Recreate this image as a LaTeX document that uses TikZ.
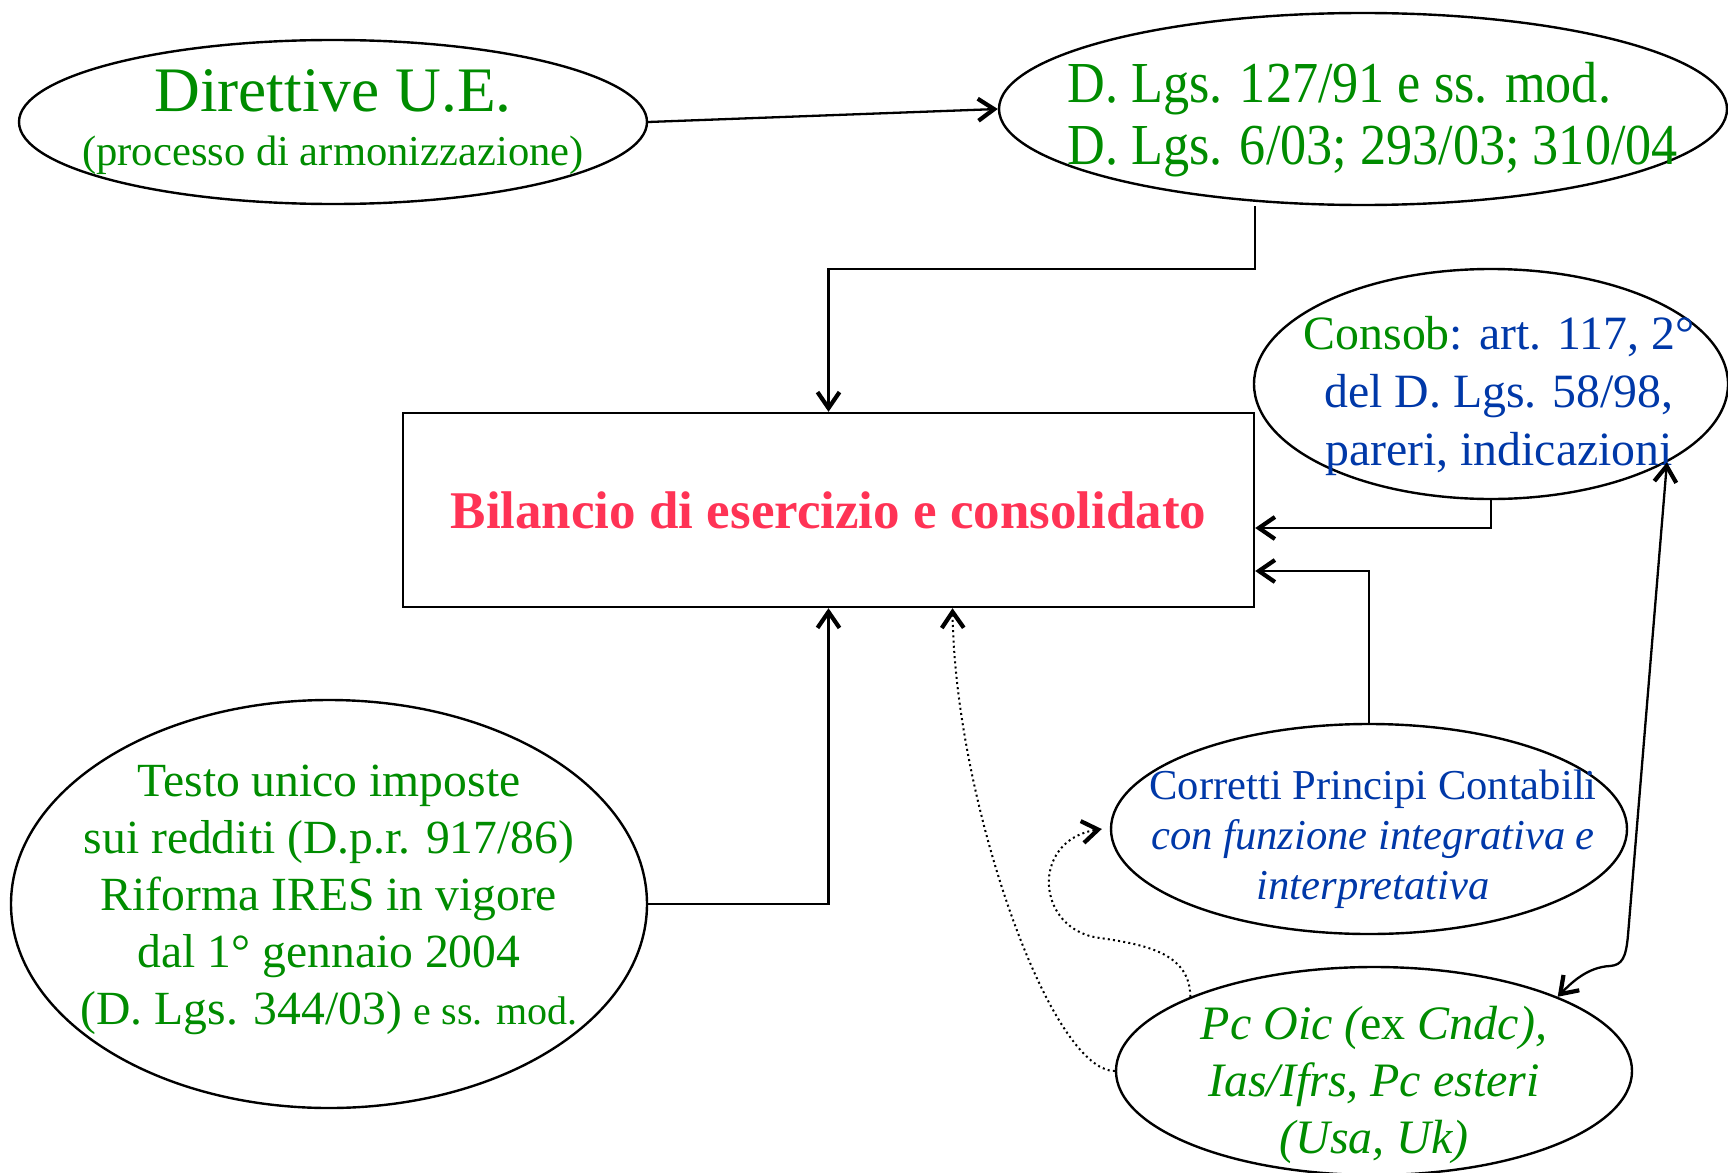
\documentclass[tikz,border=0pt]{standalone}
\usepackage{fontspec}
\setmainfont{Liberation Serif}
\newfontfamily\condfont[FakeStretch=0.9]{Liberation Serif}
\usetikzlibrary{shapes.geometric,arrows.meta}
\definecolor{tgreen}{RGB}{0,140,0}
\definecolor{tblue}{RGB}{0,56,168}
\definecolor{tred}{RGB}{255,51,85}
\begin{document}
\begin{tikzpicture}[x=0.5pt,y=-0.5pt,
  oval/.style={ellipse,draw,line width=1.2pt,inner sep=0pt},
  txt/.style={inner sep=0pt,align=center},
  barb/.tip={Straight Barb[length=8pt,width=11pt,line width=2.1pt]},
  conn/.style={line width=1.15pt,-barb},
  conn2/.style={line width=1.15pt,barb-barb},
  dotconn/.style={line width=1pt,dash pattern=on 1pt off 1.6pt,-{Straight Barb[length=8pt,width=11pt,line width=2.1pt,sep=0pt]}}]
\useasboundingbox (0,0) rectangle (1728,1172);
% ellipses
\node[oval,minimum width=314pt,minimum height=82pt] (dir) at (333,122) {};
\node[oval,minimum width=364pt,minimum height=96pt] (dlgs) at (1363,109) {};
\node[oval,minimum width=237pt,minimum height=115pt] (consob) at (1491,384) {};
\node[oval,minimum width=258pt,minimum height=105pt] (corretti) at (1369,829) {};
\node[oval,minimum width=258pt,minimum height=104pt] (pcoic) at (1374,1071) {};
\node[oval,minimum width=318pt,minimum height=204pt] (testo) at (329,904) {};
% central box
\node[draw,line width=1.2pt,minimum width=425.5pt,minimum height=97pt,inner sep=0pt,
  text=tred,font=\fontsize{26.5}{30}\selectfont\bfseries] (box) at (828.5,510)
  {Bilancio di esercizio e consolidato};
% texts
\node[txt,text=tgreen] (dirtxt) at (333,122)
  {{\fontsize{31.7}{34}\selectfont Direttive U.E.}\\[11pt]
   {\fontsize{21.3}{24}\selectfont (processo di armonizzazione)}};
\node[txt,align=left,anchor=west,text=tgreen,font=\condfont\fontsize{29}{31}\selectfont] (dlgstxt) at (1067,120)
  {D. Lgs. 127/91 e ss. mod.\\D. Lgs. 6/03; 293/03; 310/04};
\node[txt,text=tblue,font=\fontsize{23.9}{29}\selectfont] (consobtxt) at (1499,396)
  {\textcolor{tgreen}{Consob}: art. 117, 2°\\del D. Lgs. 58/98,\\pareri, indicazioni};
\node[txt,text=tblue,font=\fontsize{21.3}{25}\selectfont] (corrtxt) at (1373,839)
  {Corretti Principi Contabili\\\itshape con funzione integrativa e\\\itshape interpretativa};
\node[txt,text=tgreen,font=\fontsize{24}{28.5}\selectfont\itshape] (pctxt) at (1374,1085)
  {Pc Oic ({\upshape ex} Cndc),\\Ias/Ifrs, Pc esteri\\(Usa, Uk)};
\node[txt,text=tgreen,font=\fontsize{23.8}{28.5}\selectfont] (testotxt) at (329,900)
  {Testo unico imposte\\sui redditi (D.p.r. 917/86)\\Riforma IRES in vigore\\dal 1° gennaio 2004\\(D. Lgs. 344/03) {\fontsize{20}{28.5}\selectfont e ss. mod.}};
% connectors
\draw[conn] (dir.east) -- (dlgs.west);
\draw[conn] (dlgs.south -| box.east) -- ++(0,63) -| (box.north);
\draw[conn] (testo.east) -| (box.south);
\draw[conn] (consob.south) |- ([yshift=-9pt]box.east);
\draw[conn] (corretti.north) |- ([yshift=-30.5pt]box.east);
\draw[conn2] (pcoic.22) .. controls (1572,982) and (1588,967) .. (1610,966)
  .. controls (1622,965) and (1626,958) .. (1628,935) -- (consob.-24);
\draw[dotconn] (pcoic.west) .. controls (1050,1071) and (955,800) .. ([xshift=62pt]box.south);
\draw[dotconn] (pcoic.158) .. controls (1190,955) and (1150,945) .. (1100,938)
  .. controls (1035,930) and (1030,840) .. ([xshift=-4pt]corretti.west);
\end{tikzpicture}
\end{document}
